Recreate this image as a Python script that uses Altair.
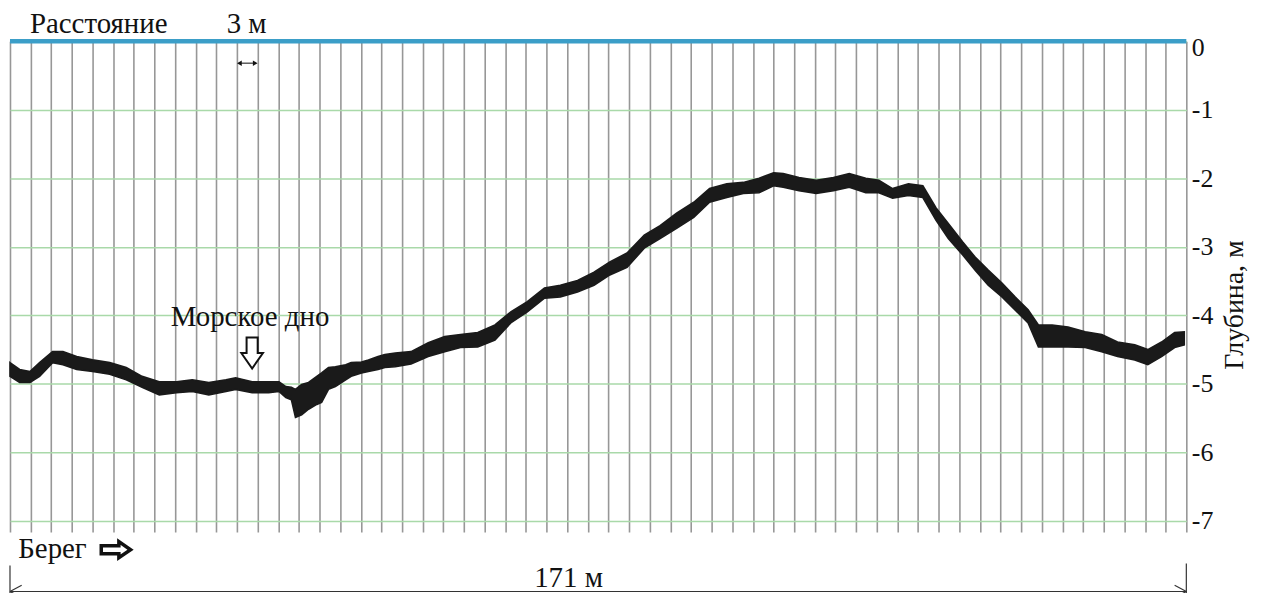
import altair as alt
import pandas as pd

# ---- seabed profile (distance m, upper / lower edge of echo band, m) ----
dist = [0.0, 1.4, 2.9, 4.3, 6.2, 7.7, 9.7, 12.0, 14.5, 16.9, 19.2, 21.7, 24.2, 26.5, 28.9,
        31.4, 32.8, 35.2, 37.6, 39.1, 40.1, 40.9, 41.5, 42.4, 43.4, 44.6, 45.3, 46.3, 47.3,
        48.8, 49.6, 51.1, 52.1, 53.5, 54.5, 56.0, 58.3, 60.8, 63.2, 65.5, 68.0, 70.5, 72.8,
        75.2, 77.7, 80.0, 82.5, 84.9, 87.2, 89.7, 92.2, 94.5, 96.9, 99.4, 101.7, 104.2,
        106.6, 108.9, 111.0, 112.4, 114.7, 117.2, 119.7, 122.0, 124.4, 126.3, 128.3, 130.6,
        132.7, 134.6, 136.4, 138.5, 140.3, 142.2, 144.2, 146.1, 148.0, 149.5, 151.5, 153.8,
        156.3, 158.7, 161.0, 163.5, 165.4, 167.4, 169.3, 170.7]
top = [-4.69, -4.79, -4.82, -4.69, -4.53, -4.53, -4.60, -4.65, -4.69, -4.76, -4.89, -4.97,
       -4.97, -4.94, -4.98, -4.94, -4.91, -4.97, -4.97, -4.97, -5.04, -5.05, -5.08, -5.01,
       -4.98, -4.89, -4.84, -4.76, -4.75, -4.72, -4.69, -4.68, -4.65, -4.60, -4.57, -4.55,
       -4.53, -4.40, -4.31, -4.28, -4.25, -4.14, -3.95, -3.80, -3.60, -3.56, -3.49, -3.37,
       -3.22, -3.09, -2.83, -2.69, -2.51, -2.35, -2.15, -2.08, -2.06, -2.00, -1.92, -1.93,
       -1.99, -2.03, -1.99, -1.93, -2.00, -2.03, -2.15, -2.08, -2.11, -2.43, -2.66, -2.93,
       -3.15, -3.34, -3.53, -3.73, -3.92, -4.14, -4.14, -4.17, -4.24, -4.28, -4.39, -4.43,
       -4.50, -4.39, -4.25, -4.24]
bottom = [-4.89, -4.98, -4.98, -4.89, -4.69, -4.72, -4.79, -4.82, -4.86, -4.94, -5.05, -5.16,
          -5.13, -5.11, -5.16, -5.11, -5.08, -5.13, -5.13, -5.11, -5.20, -5.23, -5.49, -5.45,
          -5.37, -5.30, -5.27, -5.08, -5.04, -4.94, -4.89, -4.84, -4.82, -4.79, -4.76, -4.75,
          -4.71, -4.60, -4.53, -4.47, -4.46, -4.36, -4.11, -3.95, -3.75, -3.73, -3.66, -3.56,
          -3.41, -3.30, -3.02, -2.88, -2.73, -2.57, -2.35, -2.28, -2.22, -2.21, -2.11, -2.13,
          -2.18, -2.22, -2.18, -2.13, -2.21, -2.21, -2.29, -2.25, -2.28, -2.61, -2.88, -3.12,
          -3.34, -3.56, -3.73, -3.92, -4.11, -4.46, -4.46, -4.46, -4.47, -4.53, -4.60, -4.65,
          -4.72, -4.60, -4.47, -4.43]

grid_x = list(range(0, 172, 3))          # vertical lines every 3 m, 171 m total
depth_ticks = [0, -1, -2, -3, -4, -5, -6, -7]

# annotation texts
left_texts = ["Расстояние", "Берег"]
left_x = [2.9, 1.2]
left_y = [0.12, -7.54]
center_texts = ["3 м", "Морское дно", "171 м"]
center_x = [34.4, 34.9, 81.2]
center_y = [0.12, -4.15, -7.97]
side_title = ["Глубина, м"]
side_x = [178.1]
side_y = [-3.85]

# dimension / helper line segments (x1, y1, x2, y2)
seg_x1 = [0, 0, 0, 0, 171, 171, 171, 33.3]
seg_y1 = [-8.03, -8.03, -8.03, -7.65, -8.03, -8.03, -7.62, -0.32]
seg_x2 = [171, 1.7, 1.7, 0, 169.3, 169.3, 171, 35.7]
seg_y2 = [-8.03, -7.94, -8.12, -8.35, -7.94, -8.12, -8.35, -0.32]

FONT = "'Liberation Serif', 'Times New Roman', 'DejaVu Serif', serif"
X_DOM = [0, 171]
Y_DOM = [-7.16, 0]

X_AXIS = alt.Axis(values=grid_x, grid=True, gridColor="#979797", gridWidth=1.6, labels=False,
                  ticks=False, domain=False, title=None)
Y_AXIS = alt.Axis(orient="right", values=depth_ticks, grid=True, gridColor="#a9d9a9", gridWidth=1.5,
                  domain=False, ticks=False, labelFont=FONT, labelFontSize=26, labelColor="#111111",
                  labelPadding=5, labelFlush=True, labelFlushOffset=7,
                  labelExpr="datum.value == 0 ? '0' : '-' + abs(datum.value)", title=None)


def xenc(field):
    return alt.X(field, type="quantitative", scale=alt.Scale(domain=X_DOM, nice=False, zero=False), axis=X_AXIS)


def yenc(field):
    return alt.Y(field, type="quantitative", scale=alt.Scale(domain=Y_DOM, nice=False, zero=False), axis=Y_AXIS)


profile_df = pd.DataFrame({"dist": dist, "top": top, "bottom": bottom})

area = alt.Chart(profile_df).mark_area(color="#1a1a1a", opacity=1, stroke="#1a1a1a", strokeWidth=1.6).encode(
    x=xenc("dist"),
    y=yenc("top"),
    y2=alt.Y2("bottom"),
)

surface = alt.Chart(pd.DataFrame({"x1": [0], "x2": [171], "y": [0]})).mark_rule(
    color="#3b9ec8", strokeWidth=4.5).encode(
    x=xenc("x1"), x2=alt.X2("x2"), y=yenc("y"))

seg_df = pd.DataFrame({"x1": seg_x1, "y1": seg_y1, "x2": seg_x2, "y2": seg_y2})
segments = alt.Chart(seg_df).mark_rule(color="#333333", strokeWidth=1.2).encode(
    x=xenc("x1"), y=yenc("y1"), x2=alt.X2("x2"), y2=alt.Y2("y2"))

head_l = alt.Chart(pd.DataFrame({"x": [33.35], "y": [-0.32]})).mark_point(
    shape="triangle-left", filled=True, color="#111111", size=30, opacity=1).encode(x=xenc("x"), y=yenc("y"))
head_r = alt.Chart(pd.DataFrame({"x": [35.65], "y": [-0.32]})).mark_point(
    shape="triangle-right", filled=True, color="#111111", size=30, opacity=1).encode(x=xenc("x"), y=yenc("y"))

down_arrow = alt.Chart(pd.DataFrame({"x": [35.2], "y": [-4.55]})).mark_point(
    shape="M-0.36,-1 L0.36,-1 L0.36,0 L0.7,0 L0,1 L-0.7,0 L-0.36,0 Z",
    size=961, filled=True, fill="white", stroke="#111111", strokeWidth=2, opacity=1).encode(
    x=xenc("x"), y=yenc("y"))

right_arrow = alt.Chart(pd.DataFrame({"x": [15.4], "y": [-7.42]})).mark_point(
    shape="M-1,-0.27 L0.2,-0.27 L0.2,-0.55 L1,0 L0.2,0.55 L0.2,0.27 L-1,0.27 Z",
    size=870, filled=True, fill="white", stroke="#111111", strokeWidth=3.5, opacity=1).encode(
    x=xenc("x"), y=yenc("y"))

lt = alt.Chart(pd.DataFrame({"x": left_x, "y": left_y, "t": left_texts})).mark_text(
    align="left", baseline="alphabetic", font=FONT, fontSize=29, color="#111111").encode(
    x=xenc("x"), y=yenc("y"), text="t:N")

ct = alt.Chart(pd.DataFrame({"x": center_x, "y": center_y, "t": center_texts})).mark_text(
    align="center", baseline="alphabetic", font=FONT, fontSize=29, color="#111111").encode(
    x=xenc("x"), y=yenc("y"), text="t:N")

st = alt.Chart(pd.DataFrame({"x": side_x, "y": side_y, "t": side_title})).mark_text(
    align="center", baseline="middle", angle=270, font=FONT, fontSize=28, color="#111111").encode(
    x=xenc("x"), y=yenc("y"), text="t:N")

chart = alt.layer(area, surface, segments, head_l, head_r, down_arrow, right_arrow, lt, ct, st).properties(
    width=1182, height=493,
    autosize=alt.AutoSizeParams(type="none"),
    padding={"left": 2, "top": 32, "right": 68, "bottom": 60},
    background="white",
).configure_view(stroke=None)

chart.save("out.html", embed_options={"renderer": "svg", "actions": False})
